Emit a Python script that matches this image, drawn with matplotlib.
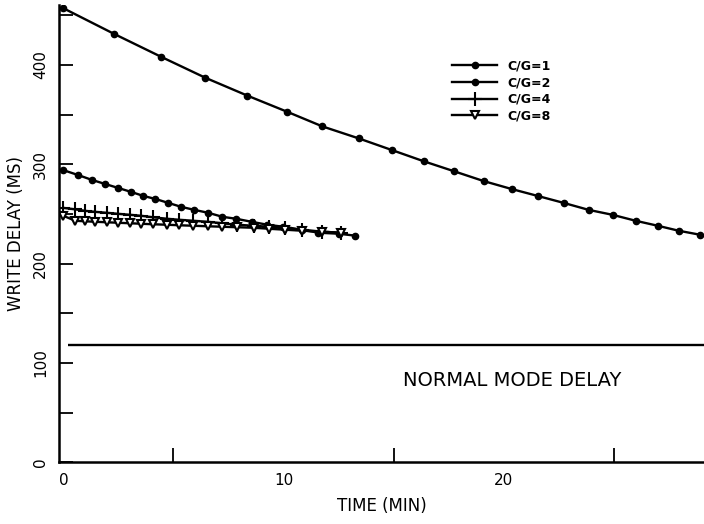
import matplotlib
matplotlib.use("Agg")
import matplotlib.pyplot as plt
from matplotlib.ticker import FixedLocator

# ---- data ----
t_cg1 = [0, 2.32, 4.45, 6.45, 8.36, 10.14, 11.77, 13.41, 14.95, 16.36, 17.73,
         19.09, 20.36, 21.55, 22.73, 23.86, 24.95, 26.0, 27.0, 27.95, 28.91]
d_cg1 = [457, 431, 408, 387, 369, 353, 338, 326, 314, 303, 293,
         283, 275, 268, 261, 254, 249, 243, 238, 233, 229]

t_cg2 = [0, 0.68, 1.32, 1.91, 2.5, 3.09, 3.64, 4.18, 4.77, 5.36, 5.95,
         6.59, 7.23, 7.86, 8.55, 9.27, 10.0, 10.82, 11.59, 12.5, 13.27]
d_cg2 = [294, 289, 284, 280, 276, 272, 268, 265, 261, 257, 254,
         251, 247, 245, 242, 239, 237, 234, 231, 230, 228]

t_cg4 = [0, 0.55, 1.0, 1.45, 2.0, 2.5, 3.05, 3.55, 4.09, 4.73, 5.27,
         5.91, 6.55, 7.23, 7.91, 8.64, 9.32, 10.09, 10.86, 11.77, 12.59]
d_cg4 = [256, 254.5, 253, 252, 251, 250, 249, 248, 246.5, 245, 244,
         243, 242, 240.5, 239, 238, 237, 235.5, 234, 232, 231]

t_cg8 = [0, 0.55, 1.0, 1.45, 2.0, 2.5, 3.05, 3.55, 4.09, 4.73, 5.27,
         5.91, 6.55, 7.23, 7.91, 8.64, 9.32, 10.09, 10.86, 11.77, 12.59]
d_cg8 = [248, 243, 242.5, 242, 241.5, 241, 240.5, 240, 239.5, 239, 238.5,
         238, 237.5, 237, 236.5, 236, 235, 234, 233, 232, 231]

normal_delay = 118
normal_span = [0.2, 29.1]

x_major = [0, 10, 20]
x_major_labels = ["0", "10", "20"]
x_minor = [5, 15, 25]
y_major = [0, 100, 200, 300, 400]
y_minor = [50, 150, 250, 350, 450]

plt.rcParams['font.family'] = ['DejaVu Sans']

fig = plt.figure(figsize=(7.04, 5.24), dpi=100)
ax = fig.add_axes([0.084, 0.118, 0.916, 0.872])

ax.plot(t_cg1, d_cg1, color='black', lw=1.7, marker='o', ms=4.5, label='C/G=1')
ax.plot(t_cg2, d_cg2, color='black', lw=1.7, marker='o', ms=4.5, label='C/G=2')
ax.plot(t_cg4, d_cg4, color='black', lw=1.7, marker='+', ms=10, mew=1.5, label='C/G=4')
ax.plot(t_cg8, d_cg8, color='black', lw=1.7, marker='v', ms=6, mew=1.5,
        mfc='white', mec='black', label='C/G=8')

ax.hlines(normal_delay, normal_span[0], normal_span[1], color='black', lw=1.7)
ax.text(20.4, 82, "NORMAL MODE DELAY", fontsize=14, ha='center', va='center')

ax.set_xlim(-0.19, 29.1)
ax.set_ylim(0, 460)

ax.xaxis.set_major_locator(FixedLocator(x_major))
ax.set_xticklabels(x_major_labels)
ax.xaxis.set_minor_locator(FixedLocator(x_minor))
ax.yaxis.set_major_locator(FixedLocator(y_major))
ax.set_yticklabels([str(v) for v in y_major], rotation=90, va='center')
ax.yaxis.set_minor_locator(FixedLocator(y_minor))

ax.tick_params(axis='both', which='both', direction='in', length=10, width=1.3,
               labelsize=11, pad=8)
ax.tick_params(axis='x', which='major', length=0)

for s in ['top', 'right']:
    ax.spines[s].set_visible(False)
for s in ['left', 'bottom']:
    ax.spines[s].set_linewidth(1.8)

ax.set_xlabel("TIME (MIN)", fontsize=12, labelpad=6)
ax.set_ylabel("WRITE DELAY (MS)", fontsize=12, labelpad=6)

leg = ax.legend(loc='upper left', bbox_to_anchor=(0.592, 0.906), frameon=False,
                handlelength=3.6, labelspacing=0.3,
                prop={'weight': 'bold', 'size': 9})

fig.savefig("out.png", dpi=100)
